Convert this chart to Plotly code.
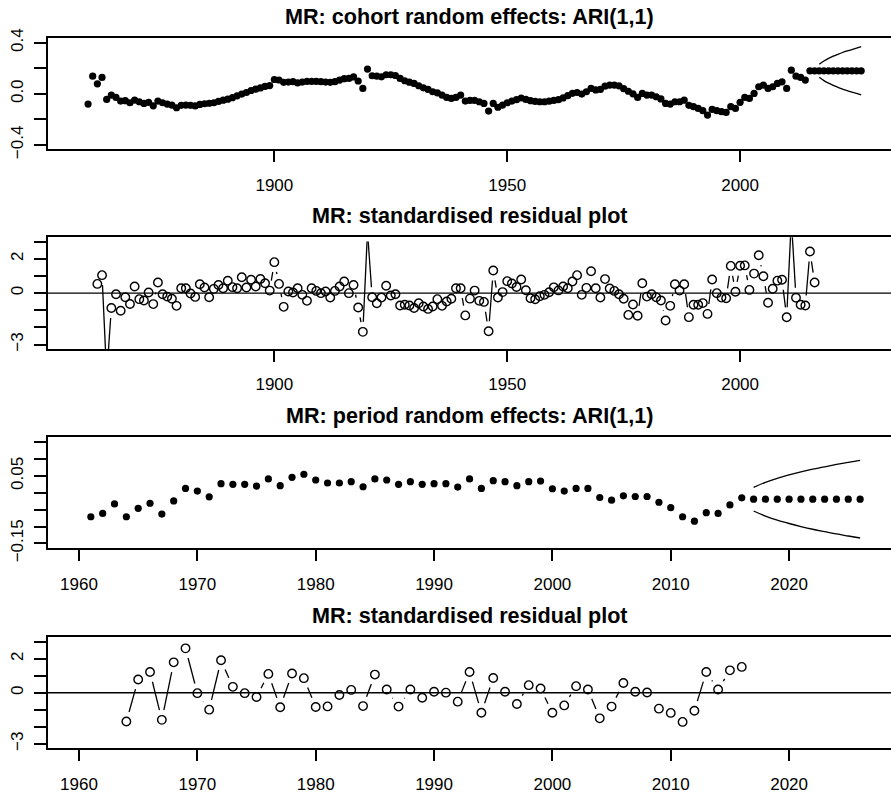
import math
import plotly.graph_objects as go

# ---------------- data ----------------
coh_years = list(range(1860, 2017))
coh_effect = [
    -0.080, 0.138, 0.078, 0.128, -0.044, -0.010, -0.028, -0.057, -0.054, -0.070,
    -0.049, -0.062, -0.075, -0.067, -0.094, -0.057, -0.070, -0.080, -0.088, -0.109,
    -0.090, -0.088, -0.090, -0.095, -0.083, -0.078, -0.074, -0.070, -0.060, -0.050,
    -0.042, -0.030, -0.016, -0.002, 0.010, 0.026, 0.036, 0.046, 0.058, 0.064,
    0.112, 0.108, 0.090, 0.092, 0.095, 0.085, 0.092, 0.097, 0.097, 0.097,
    0.095, 0.092, 0.090, 0.095, 0.107, 0.118, 0.120, 0.132, 0.100, 0.042,
    0.193, 0.141, 0.138, 0.133, 0.149, 0.149, 0.143, 0.120, 0.102, 0.091,
    0.081, 0.063, 0.047, 0.034, 0.016, 0.008, -0.010, -0.028, -0.036, -0.028,
    -0.010, -0.057, -0.052, -0.052, -0.062, -0.075, -0.135, -0.075, -0.105, -0.088,
    -0.070, -0.057, -0.046, -0.033, -0.044, -0.054, -0.060, -0.062, -0.062, -0.058,
    -0.052, -0.046, -0.032, -0.015, 0.004, 0.010, -0.002, 0.016, 0.042, 0.030,
    0.034, 0.060, 0.068, 0.068, 0.062, 0.040, 0.020, 0.000, -0.028, 0.003,
    -0.010, -0.010, -0.023, -0.040, -0.075, -0.080, -0.062, -0.062, -0.050, -0.090,
    -0.101, -0.114, -0.132, -0.166, -0.122, -0.132, -0.140, -0.146, -0.101, -0.114,
    -0.067, -0.028, -0.036, 0.003, 0.055, 0.068, 0.042, 0.055, 0.081, 0.094,
    0.042, 0.185, 0.138, 0.128, 0.107, 0.180, 0.180,
]
fc_years = list(range(2017, 2027))
coh_fc = [0.180, 0.180, 0.180, 0.180, 0.180, 0.180, 0.180, 0.180, 0.180, 0.180]
coh_fc_upper = [0.231, 0.257, 0.277, 0.294, 0.309, 0.323, 0.335, 0.346, 0.357, 0.368]
coh_fc_lower = [0.129, 0.103, 0.083, 0.066, 0.051, 0.037, 0.025, 0.014, 0.003, -0.008]

coh_res_years = list(range(1862, 2017))
coh_resid = [
    0.54, 1.05, -4.8, -0.87, -0.06, -1.03, -0.24, -0.63,
    0.39, -0.35, -0.43, 0.04, -0.64, 0.62, -0.06, -0.20, -0.33, -0.74,
    0.29, 0.29, -0.02, -0.22, 0.52, 0.33, -0.24, 0.25, 0.48, 0.29,
    0.72, 0.35, 0.29, 0.93, 0.33, 0.78, 0.39, 0.83, 0.58, 0.15,
    1.81, 0.54, -0.80, 0.10, 0.04, 0.29, -0.10, -0.45, 0.29, 0.13,
    0.00, 0.10, -0.25, 0.13, 0.39, 0.68, 0.00, 0.48, -0.84, -2.26,
    3.60, -0.24, -0.59, -0.25, 0.43, -0.14, -0.06, -0.72, -0.68, -0.72,
    -0.87, -0.59, -0.78, -0.92, -0.78, -0.35, -0.74, -0.49, -0.33, 0.29,
    0.29, -1.30, -0.32, 0.15, -0.45, -0.51, -2.22, 1.32, -0.25, 0.06,
    0.70, 0.56, 0.36, 0.80, 0.17, -0.30, -0.36, -0.18, -0.10, 0.05,
    0.34, 0.16, 0.39, 0.29, 0.68, 1.05, -0.10, 0.31, 1.28, 0.29,
    -0.25, 0.82, 0.27, 0.13, -0.06, -0.33, -1.27, -0.66, -1.32, 0.58,
    -0.20, -0.06, -0.24, -0.43, -1.60, -0.74, 0.52, 0.15, 0.52, -1.40,
    -0.68, -0.68, -0.58, -1.21, 0.80, 0.00, -0.26, -0.30, 1.59, 0.08,
    1.60, 1.62, 0.19, 1.14, 2.21, 0.99, -0.56, 0.26, 0.73, 0.78,
    -1.41, 4.30, -0.27, -0.68, -0.72, 2.43, 0.62,
]

per_years = list(range(1961, 2017))
per_effect = [
    -0.071, -0.061, -0.033, -0.071, -0.046, -0.031, -0.063, -0.024, 0.013, 0.005,
    -0.012, 0.027, 0.025, 0.025, 0.020, 0.041, 0.021, 0.046, 0.055, 0.038,
    0.029, 0.029, 0.033, 0.018, 0.041, 0.038, 0.025, 0.033, 0.025, 0.027,
    0.027, 0.017, 0.041, 0.013, 0.036, 0.033, 0.021, 0.033, 0.035, 0.012,
    0.005, 0.013, 0.013, -0.014, -0.022, -0.009, -0.011, -0.011, -0.028, -0.044,
    -0.071, -0.084, -0.059, -0.061, -0.036, -0.015,
]
per_fc = [-0.019, -0.019, -0.019, -0.019, -0.019, -0.019, -0.019, -0.019, -0.019, -0.019]
per_fc_upper = [0.016, 0.031, 0.043, 0.053, 0.062, 0.070, 0.077, 0.084, 0.090, 0.096]
per_fc_lower = [-0.054, -0.069, -0.081, -0.091, -0.100, -0.108, -0.115, -0.122, -0.128, -0.134]

per_res_years = list(range(1964, 2017))
per_resid = [
    -1.69, 0.78, 1.22, -1.59, 1.79, 2.61, -0.02, -0.99, 1.91, 0.35,
    -0.02, -0.25, 1.11, -0.85, 1.13, 0.86, -0.83, -0.80, -0.13, 0.17,
    -0.78, 1.07, 0.19, -0.81, 0.19, -0.29, 0.06, 0.01, -0.52, 1.22,
    -1.17, 0.87, 0.06, -0.66, 0.45, 0.25, -1.17, -0.74, 0.39, 0.19,
    -1.50, -0.81, 0.58, 0.06, 0.02, -0.93, -1.18, -1.71, -1.05, 1.22,
    0.19, 1.32, 1.52,
]

titles = [
    "MR: cohort random effects: ARI(1,1)",
    "MR: standardised residual plot",
    "MR: period random effects: ARI(1,1)",
    "MR: standardised residual plot",
]

# ---------------- layout constants ----------------
W, H = 891, 793
ML = 48
PW = W - ML
boxes = [(38.3, 149.3), (237.3, 349.0), (437.3, 548.3), (637.3, 748.3)]
xr_coh = [1851.4, 2032.4]
xr_per = [1957.38, 2028.61]
yranges = [[-0.434, 0.434], [-3.26, 3.26], [-0.1645, 0.1645], [-3.26, 3.26]]
FONT = "Liberation Sans, Arial, Helvetica, sans-serif"
BLACK = "#000000"


def gapped(xs, ys, xr, yr, hpx, gap=10.0):
    sx = PW / (xr[1] - xr[0])
    sy = hpx / (yr[1] - yr[0])
    ox, oy = [], []
    for i in range(len(xs) - 1):
        ddx = xs[i + 1] - xs[i]
        ddy = ys[i + 1] - ys[i]
        L = math.hypot(ddx * sx, ddy * sy)
        if L > 2 * gap:
            f = gap / L
            ox += [xs[i] + ddx * f, xs[i + 1] - ddx * f, None]
            oy += [ys[i] + ddy * f, ys[i + 1] - ddy * f, None]
    return ox, oy


fig = go.Figure()

# panel 1
fig.add_trace(go.Scatter(x=coh_years, y=coh_effect, mode="markers",
                         marker=dict(size=7.2, color=BLACK), xaxis="x", yaxis="y"))
fig.add_trace(go.Scatter(x=fc_years, y=coh_fc, mode="markers",
                         marker=dict(size=7.2, color=BLACK), xaxis="x", yaxis="y"))
for band in (coh_fc_upper, coh_fc_lower):
    fig.add_trace(go.Scatter(x=fc_years, y=band, mode="lines",
                             line=dict(color=BLACK, width=1.3, shape="spline"),
                             xaxis="x", yaxis="y"))

# panel 2
h2 = boxes[1][1] - boxes[1][0]
gx, gy = gapped(coh_res_years, coh_resid, xr_coh, yranges[1], h2)
fig.add_trace(go.Scatter(x=gx, y=gy, mode="lines", line=dict(color=BLACK, width=1.3),
                         xaxis="x2", yaxis="y2"))
fig.add_trace(go.Scatter(x=coh_res_years, y=coh_resid, mode="markers",
                         marker=dict(size=8.5, symbol="circle-open", color=BLACK,
                                     line=dict(width=1.4, color=BLACK)),
                         xaxis="x2", yaxis="y2"))

# panel 3
fig.add_trace(go.Scatter(x=per_years, y=per_effect, mode="markers",
                         marker=dict(size=7.2, color=BLACK), xaxis="x3", yaxis="y3"))
fig.add_trace(go.Scatter(x=fc_years, y=per_fc, mode="markers",
                         marker=dict(size=7.2, color=BLACK), xaxis="x3", yaxis="y3"))
for band in (per_fc_upper, per_fc_lower):
    fig.add_trace(go.Scatter(x=fc_years, y=band, mode="lines",
                             line=dict(color=BLACK, width=1.3, shape="spline"),
                             xaxis="x3", yaxis="y3"))

# panel 4
h4 = boxes[3][1] - boxes[3][0]
gx, gy = gapped(per_res_years, per_resid, xr_per, yranges[3], h4)
fig.add_trace(go.Scatter(x=gx, y=gy, mode="lines", line=dict(color=BLACK, width=1.3),
                         xaxis="x4", yaxis="y4"))
fig.add_trace(go.Scatter(x=per_res_years, y=per_resid, mode="markers",
                         marker=dict(size=8.5, symbol="circle-open", color=BLACK,
                                     line=dict(width=1.4, color=BLACK)),
                         xaxis="x4", yaxis="y4"))

layout = dict(
    width=W, height=H, margin=dict(l=ML, r=0, t=0, b=0, autoexpand=False),
    template="none",
    paper_bgcolor="white", plot_bgcolor="white", showlegend=False,
    font=dict(family=FONT, color=BLACK, size=17),
)

xticks = [[1900, 1950, 2000], [1900, 1950, 2000],
          [1960, 1970, 1980, 1990, 2000, 2010, 2020],
          [1960, 1970, 1980, 1990, 2000, 2010, 2020]]
xranges = [xr_coh, xr_coh, xr_per, xr_per]
ytickvals = [[-0.4, -0.2, 0.0, 0.2, 0.4], [-3, -2, -1, 0, 1, 2, 3],
             [-0.15, -0.10, -0.05, 0.0, 0.05, 0.10, 0.15], [-3, -2, -1, 0, 1, 2, 3]]
yticktext = [["\u22120.4", "", "0.0", "", "0.4"],
             ["\u22123", "", "", "0", "", "2", ""],
             ["\u22120.15", "", "", "", "0.05", "", ""],
             ["\u22123", "", "", "0", "", "2", ""]]

shapes = []
annotations = []
for i in range(4):
    sfx = "" if i == 0 else str(i + 1)
    top, bot = boxes[i]
    dom = [1 - bot / H, 1 - top / H]
    layout["xaxis" + sfx] = dict(
        domain=[0, 1], range=xranges[i], anchor="y" + sfx, automargin=False,
        showline=True, mirror=True, linecolor=BLACK, linewidth=1.6,
        ticks="outside", ticklen=11, tickwidth=1.6, tickcolor=BLACK,
        tickvals=xticks[i], ticktext=[str(v) for v in xticks[i]],
        tickfont=dict(size=17, family=FONT), showgrid=False, zeroline=False,
        ticklabelstandoff=8,
    )
    layout["yaxis" + sfx] = dict(
        domain=dom, range=yranges[i], anchor="x" + sfx, automargin=False,
        showline=True, mirror=False, linecolor=BLACK, linewidth=1.6,
        ticks="outside", ticklen=12, tickwidth=1.6, tickcolor=BLACK,
        tickvals=ytickvals[i], ticktext=yticktext[i], tickangle=-90,
        tickfont=dict(size=17, family=FONT), showgrid=False, zeroline=False,
        ticklabelstandoff=4,
    )
    if i in (1, 3):
        shapes.append(dict(type="line", xref="x" + sfx + " domain", yref="y" + sfx,
                           x0=0, x1=1, y0=0, y1=0, line=dict(color=BLACK, width=1.4)))
    annotations.append(dict(
        text="<b>" + titles[i] + "</b>", xref="paper", yref="paper",
        x=0.5, y=1 - (top - 21.5) / H, xanchor="center", yanchor="middle",
        showarrow=False, font=dict(size=21.6, family=FONT, color=BLACK)))

layout["shapes"] = shapes
layout["annotations"] = annotations
fig.update_layout(**layout)
fig.write_html("out.html")
